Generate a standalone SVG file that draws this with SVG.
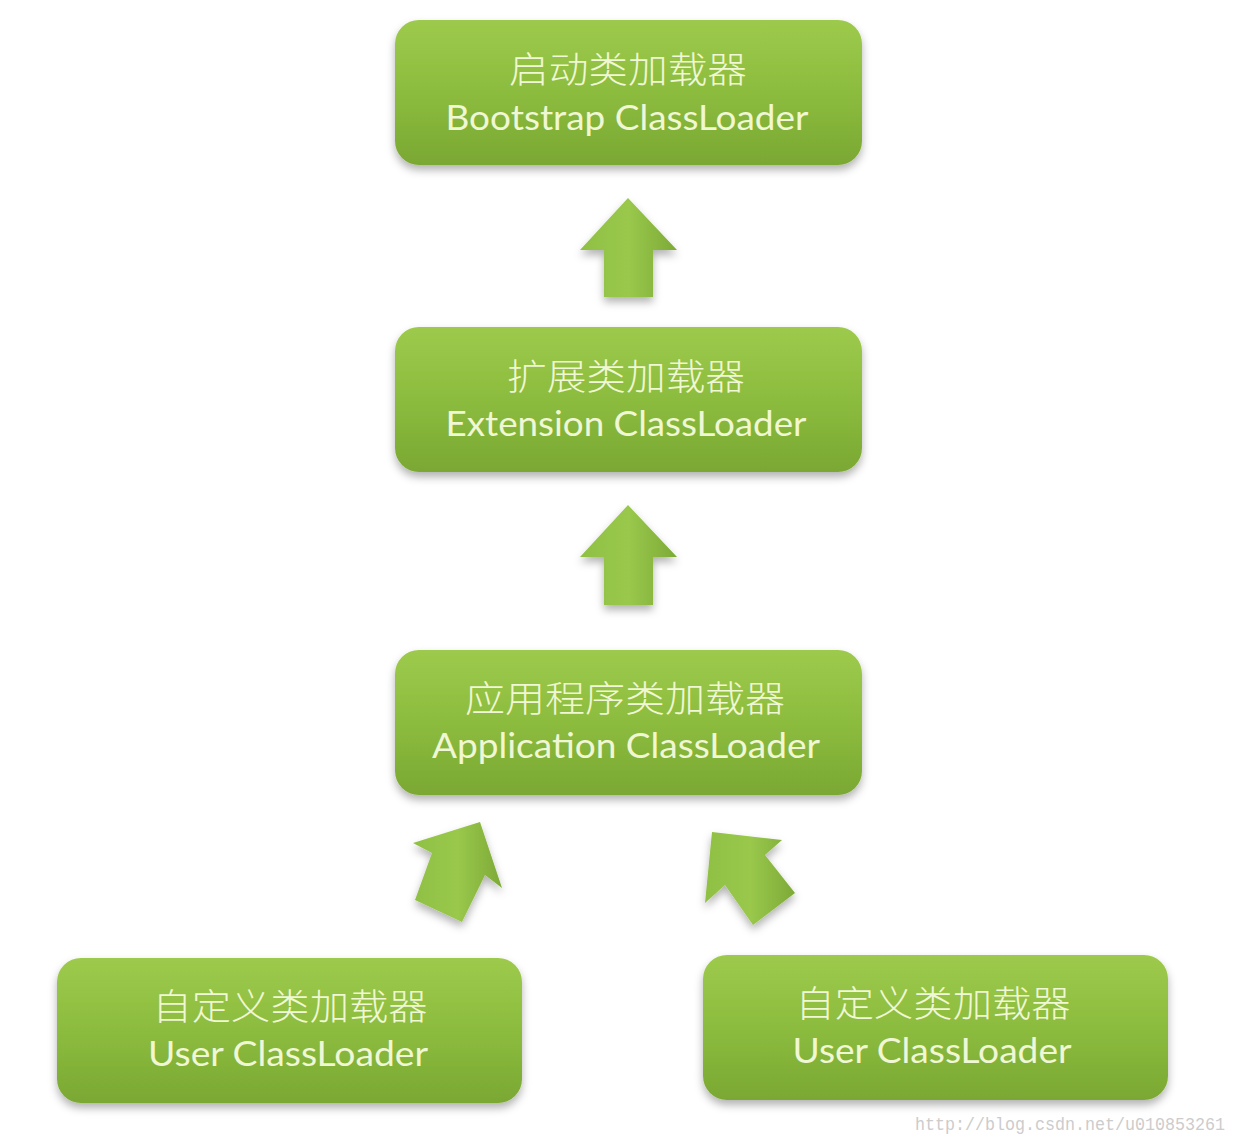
<svg xmlns="http://www.w3.org/2000/svg" width="1238" height="1140" viewBox="0 0 1238 1140">
<defs>
<linearGradient id="g" x1="0" y1="0" x2="0" y2="1">
<stop offset="0" stop-color="#9dca4c"/>
<stop offset="0.5" stop-color="#8cbc3e"/>
<stop offset="1" stop-color="#7aa833"/>
</linearGradient>
<linearGradient id="ga" x1="0" y1="0" x2="1" y2="0">
<stop offset="0" stop-color="#8fc043"/>
<stop offset="0.5" stop-color="#99c84c"/>
<stop offset="1" stop-color="#7daa36"/>
</linearGradient>
<filter id="sh" x="-10%" y="-10%" width="120%" height="130%">
<feDropShadow dx="0" dy="5" stdDeviation="4" flood-color="#000" flood-opacity="0.3"/>
</filter>
</defs>
<style>
.box{fill:url(#g);filter:url(#sh)}
.arr{fill:url(#ga);filter:url(#sh)}
.zh{font-family:"Noto Sans CJK SC",sans-serif;font-size:36px;font-weight:300;fill:#f0f7d4;text-anchor:middle}
.en{font-family:Lato,"Open Sans",sans-serif;font-size:34px;fill:#f0f7d4;text-anchor:middle}
.wm{font-family:"Liberation Mono",monospace;font-size:18px;fill:#cccccc}
</style>
<rect width="1238" height="1140" fill="#fff"/>
<g id="connectors">
<polygon class="arr" points="628,198 677,250 653,250 653,297 604,297 604,250 580,250"/>
<polygon class="arr" points="628,505 677,557 653,557 653,605 604,605 604,557 580,557"/>
<polygon class="arr" points="480,822 502,888 485,875 462,922 415,900 432,853 413,843"/>
<polygon class="arr" points="712,832 782,840 765,855 795,893 753,925 725,885 705,903"/>
</g>
<g id="bootstrap">
<rect class="box" x="395" y="20" width="467" height="145" rx="24"/>
<text class="zh" x="628" y="83" textLength="238" lengthAdjust="spacingAndGlyphs">启动类加载器</text>
<text class="en" x="627" y="130" textLength="363" lengthAdjust="spacingAndGlyphs">Bootstrap ClassLoader</text>
</g>
<g id="extension">
<rect class="box" x="395" y="327" width="467" height="145" rx="24"/>
<text class="zh" x="626" y="390" textLength="238" lengthAdjust="spacingAndGlyphs">扩展类加载器</text>
<text class="en" x="626" y="436" textLength="361" lengthAdjust="spacingAndGlyphs">Extension ClassLoader</text>
</g>
<g id="application">
<rect class="box" x="395" y="650" width="467" height="145" rx="24"/>
<text class="zh" x="625" y="712" textLength="320" lengthAdjust="spacingAndGlyphs">应用程序类加载器</text>
<text class="en" x="626" y="758" textLength="388" lengthAdjust="spacingAndGlyphs">Application ClassLoader</text>
</g>
<g id="user1">
<rect class="box" x="57" y="958" width="465" height="145" rx="24"/>
<text class="zh" x="290" y="1020" textLength="275" lengthAdjust="spacingAndGlyphs">自定义类加载器</text>
<text class="en" x="288" y="1066" textLength="280" lengthAdjust="spacingAndGlyphs">User ClassLoader</text>
</g>
<g id="user2">
<rect class="box" x="703" y="955" width="465" height="145" rx="24"/>
<text class="zh" x="933" y="1017" textLength="275" lengthAdjust="spacingAndGlyphs">自定义类加载器</text>
<text class="en" x="932" y="1063" textLength="279" lengthAdjust="spacingAndGlyphs">User ClassLoader</text>
</g>
<text class="wm" x="915" y="1130" textLength="310" lengthAdjust="spacingAndGlyphs">http://blog.csdn.net/u010853261</text>
</svg>
